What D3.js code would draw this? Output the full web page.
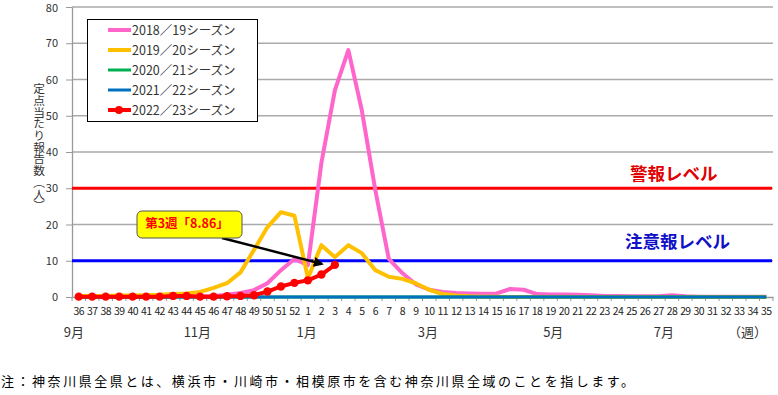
<!DOCTYPE html>
<html>
<head>
<meta charset="utf-8">
<script src="https://cdn.jsdelivr.net/npm/d3@7"></script>
<style>
  body { margin: 0; background: #fff; }
  text { font-family: "Noto Sans CJK JP", "Noto Sans", sans-serif; }
</style>
</head>
<body>
<div id="container"></div>
<script>
// weeks, Sept (36) through the following Aug (35)
const weeks = ['36','37','38','39','40','41','42','43','44','45','46','47','48','49','50','51','52',
  '1','2','3','4','5','6','7','8','9','10','11','12','13','14','15','16','17','18','19','20',
  '21','22','23','24','25','26','27','28','29','30','31','32','33','34','35'];

const s2018 = [0.1,0.1,0.1,0.1,0.1,0.1,0.1,0.1,0.2,0.2,0.3,0.6,1.1,1.9,3.8,7.4,10.5,
  8.8,37,57,68.1,51.5,29.5,10.5,6.6,3.5,2.0,1.4,1.1,1.0,0.9,1.0,2.2,2.0,0.8,0.7,0.7,
  0.6,0.5,0.3,0.3,0.2,0.2,0.2,0.5,0.2,0.1,0.1,0.1,0.1,0.1,0.1];
const s2019 = [0.3,0.3,0.3,0.4,0.4,0.5,0.6,0.8,1.0,1.4,2.5,3.8,6.8,13,19.3,23.4,22.4,
  5.2,14.3,11,14.3,12.1,7.4,5.6,5.0,3.8,2.0,0.8,0.4,0.2,0.1,0.1,0,0,0,0,0,
  0,0,0,0,0,0,0,0,0,0,0,0,0,0,0];
const s2020 = weeks.map(() => 0);
const s2021 = weeks.map(() => 0);
const s2022 = [0.1,0.1,0.1,0.1,0.1,0.1,0.1,0.3,0.3,0.1,0.1,0.2,0.3,0.5,1.5,2.9,3.9,
  4.6,6.2,8.86];

const seasonNames = ['2018／19シーズン','2019／20シーズン','2020／21シーズン','2021／22シーズン','2022／23シーズン'];
const seasonColors = ['#FF66CC','#FFC000','#00B050','#0070C0','#FF0000'];
const seasonValues = [s2018, s2019, s2020, s2021, s2022];

const yTicks = [0,10,20,30,40,50,60,70,80];
const yTitle = '定点当たり報告数（人）';
const levels = [
  { name: '警報レベル', value: 30, color: '#FF0000', text: '#E00000' },
  { name: '注意報レベル', value: 10, color: '#0000FF', text: '#1010C8' }
];
// month labels at fractional week positions on the axis
const monthTicks = [['9月',0.07],['11月',9.3],['1月',17.4],['3月',26.4],['5月',35.7],['7月',43.9],['（週）',50.1]];
const note = '注：神奈川県全県とは、横浜市・川崎市・相模原市を含む神奈川県全域のことを指します。';

const W = 778, H = 395;
const mLeft = 72, mRight = 773, mTop = 7, mBottom = 297;

const svg = d3.select('#container').append('svg')
  .attr('width', W).attr('height', H);

const x = d3.scaleBand().domain(weeks).range([mLeft, mRight]);
const xi = d3.scaleLinear().domain([0, weeks.length]).range([mLeft, mRight]);
const y = d3.scaleLinear().domain([0, 80]).range([mBottom, mTop]);
const cx = w => x(w) + x.bandwidth() / 2;

// grid
svg.append('g').selectAll('line')
  .data(yTicks.filter(d => d > 0))
  .join('line')
  .attr('x1', mLeft).attr('x2', mRight)
  .attr('y1', d => y(d)).attr('y2', d => y(d))
  .attr('stroke', '#AAAAAA').attr('stroke-width', 1.3);

// y axis
const ya = svg.append('g')
  .attr('transform', `translate(${mLeft},0)`)
  .call(d3.axisLeft(y).tickValues(yTicks).tickSize(6).tickPadding(8).tickSizeOuter(0));
ya.select('.domain').attr('stroke', '#999').attr('stroke-width', 1.3);
ya.selectAll('.tick line').attr('stroke', '#999');
ya.selectAll('text').attr('font-family', 'Liberation Sans, Arial, sans-serif')
  .attr('font-size', 11).attr('fill', '#333');
ya.selectAll('text').filter(d => d === 80).attr('dy', '0.45em');

// x axis
const xa = svg.append('g')
  .attr('transform', `translate(0,${mBottom})`)
  .call(d3.axisBottom(x).tickSize(0).tickPadding(11).tickSizeOuter(0));
xa.select('.domain').attr('stroke', '#999').attr('stroke-width', 1.3);
xa.selectAll('text').attr('font-family', 'Liberation Sans, Arial, sans-serif')
  .attr('font-size', 10.5).attr('letter-spacing', -0.6).attr('fill', '#222');
svg.append('g').selectAll('line')
  .data(d3.range(weeks.length + 1))
  .join('line')
  .attr('x1', d => xi(d)).attr('x2', d => xi(d))
  .attr('y1', mBottom).attr('y2', mBottom + 4)
  .attr('stroke', '#999');

svg.append('g').selectAll('text')
  .data(monthTicks)
  .join('text')
  .attr('x', d => xi(d[1]) + (d[1] < 1 ? 1 : 0))
  .attr('y', 337)
  .attr('text-anchor', 'middle')
  .attr('font-size', 13)
  .attr('fill', '#333')
  .text(d => d[0]);

// y title, vertical writing
svg.append('text')
  .attr('x', 39).attr('y', 83)
  .style('writing-mode', 'vertical-rl')
  .attr('font-size', 11.7)
  .attr('fill', '#333')
  .text(yTitle);

// alert levels
svg.append('g').selectAll('line')
  .data(levels)
  .join('line')
  .attr('x1', mLeft).attr('x2', mRight - 1)
  .attr('y1', d => y(d.value)).attr('y2', d => y(d.value))
  .attr('stroke', d => d.color).attr('stroke-width', 3);

svg.append('text').attr('x', 630).attr('y', 180)
  .attr('font-size', 17.5).attr('font-weight', 'bold').attr('fill', levels[0].text)
  .text(levels[0].name);
svg.append('text').attr('x', 625).attr('y', 248)
  .attr('font-size', 17.5).attr('font-weight', 'bold').attr('fill', levels[1].text)
  .text(levels[1].name);

// season lines
const line = d3.line()
  .defined(d => d != null)
  .x((d, i) => cx(weeks[i]))
  .y(d => y(d));

const widths = [4, 4, 3, 3, 4];
svg.append('g').selectAll('path')
  .data(seasonValues)
  .join('path')
  .attr('d', line)
  .attr('fill', 'none')
  .attr('stroke', (d, i) => seasonColors[i])
  .attr('stroke-width', (d, i) => widths[i])
  .attr('stroke-linejoin', 'round');

svg.append('g').selectAll('circle')
  .data(s2022)
  .join('circle')
  .attr('cx', (d, i) => cx(weeks[i]))
  .attr('cy', d => y(d))
  .attr('r', 4.2)
  .attr('fill', '#FF0000');

// callout for latest week
const last = s2022.length - 1;
const tipX = cx(weeks[last]) - 13, tipY = y(s2022[last]) - 1;
svg.append('defs').append('marker')
  .attr('id', 'arrow').attr('viewBox', '0 0 10 10')
  .attr('refX', 8).attr('refY', 5)
  .attr('markerWidth', 4).attr('markerHeight', 4)
  .attr('orient', 'auto')
  .append('path').attr('d', 'M0,0L10,5L0,10z').attr('fill', '#000');
svg.append('line')
  .attr('x1', 222).attr('y1', 238)
  .attr('x2', tipX).attr('y2', tipY)
  .attr('stroke', '#000').attr('stroke-width', 2.5)
  .attr('marker-end', 'url(#arrow)');
svg.append('rect')
  .attr('x', 137).attr('y', 211).attr('width', 105).attr('height', 27)
  .attr('rx', 5)
  .attr('fill', '#FFFF00').attr('stroke', '#555').attr('stroke-width', 1);
svg.append('text')
  .attr('x', 187).attr('y', 228)
  .attr('text-anchor', 'middle')
  .attr('font-size', 12.5).attr('font-weight', 'bold').attr('fill', '#FF0000')
  .text(`第3週「${s2022[last]}」`);

// legend
const lg = svg.append('g');
lg.append('rect')
  .attr('x', 87.5).attr('y', 19.5).attr('width', 170).attr('height', 102)
  .attr('fill', '#fff').attr('stroke', '#000');
const row = lg.selectAll('g.row')
  .data(seasonNames)
  .join('g')
  .attr('class', 'row')
  .attr('transform', (d, i) => `translate(0,${30 + i * 20})`);
row.append('line')
  .attr('x1', 108).attr('x2', 131)
  .attr('stroke', (d, i) => seasonColors[i])
  .attr('stroke-width', (d, i) => widths[i]);
row.filter((d, i) => i === 4).append('circle')
  .attr('cx', 119).attr('r', 4).attr('fill', '#FF0000');
row.append('text')
  .attr('x', 132).attr('y', 5)
  .attr('font-size', 12.5).attr('fill', '#333')
  .text(d => d);

// footnote
svg.append('text')
  .attr('x', 1).attr('y', 386)
  .attr('font-size', 13).attr('fill', '#000')
  .attr('textLength', 633).attr('lengthAdjust', 'spacing')
  .text(note);
</script>
</body>
</html>
